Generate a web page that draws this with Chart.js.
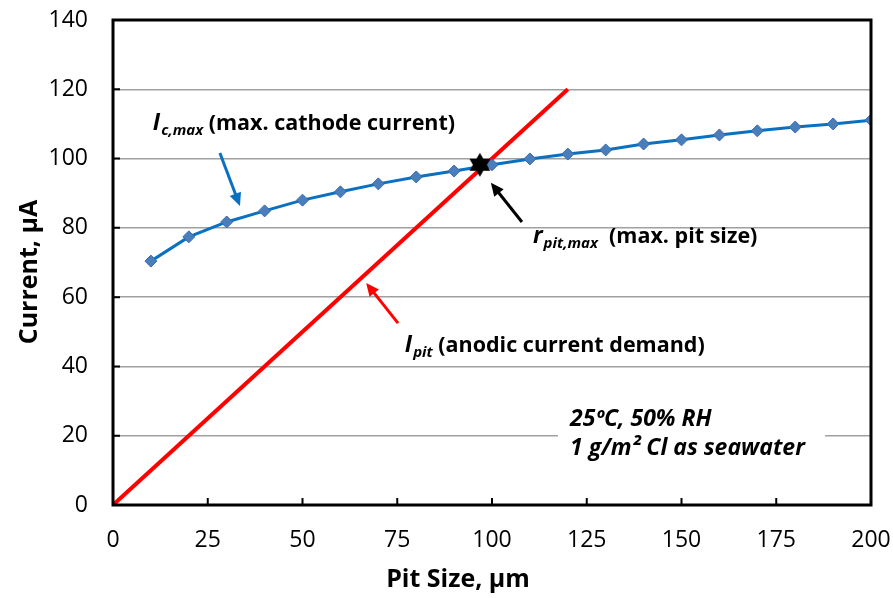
<!DOCTYPE html>
<html>
<head>
<meta charset="utf-8">
<script src="https://cdn.jsdelivr.net/npm/chart.js@4.4.1/dist/chart.umd.min.js"></script>
<style>
    html, body { margin: 0; padding: 0; background: #fff; }
</style>
</head>
<body>
<canvas id="chart" width="893" height="598"></canvas>
<script>
// data
const pitSize = [10, 20, 30, 40, 50, 60, 70, 80, 90, 100, 110, 120, 130, 140, 150, 160, 170, 180, 190, 200]
const cathodeCurrent = [70.4, 77.4, 81.7, 84.9, 88.0, 90.4, 92.7, 94.7, 96.4, 98.2, 99.9, 101.3, 102.5, 104.2, 105.4, 106.8, 108.0, 109.1, 110.0, 111.1]
const anodicSize = [0, 120]
const anodicCurrent = [0, 120]
const maxPitSize = [96.8]
const maxPitCurrent = [98.2]
const xTickStep = 25
const yTickStep = 20

const FONT = "'Open Sans', 'Noto Sans', sans-serif"

// labels and arrows, placed in data units
const labels = [
    { x: 10.5, y: 108.3, main: 'I', sub: 'c,max', rest: ' (max. cathode current)' },
    { x: 110.8, y: 75.6, main: 'r', sub: 'pit,max', rest: '  (max. pit size)' },
    { x: 77.0, y: 44.2, main: 'I', sub: 'pit', rest: ' (anodic current demand)' },
]
const arrows = [
    { from: [28.2, 101.6], to: [33.5, 86.3], color: '#0A70C0' },
    { from: [107.9, 81.7], to: [99.7, 93.0], color: '#000000' },
    { from: [75.2, 52.5], to: [66.8, 64.1], color: '#FF0000' },
]
const conditions = ['25ºC, 50% RH', '1 g/m² Cl as seawater']

function starImage(r) {
    const cv = document.createElement('canvas')
    cv.width = cv.height = r * 2 + 2
    const g = cv.getContext('2d')
    g.fillStyle = '#000'
    g.beginPath()
    for (let i = 0; i < 12; i++) {
        const a = -Math.PI / 2 + i * Math.PI / 6
        const rr = i % 2 ? r * 0.58 : r
        g.lineTo(r + 1 + rr * Math.cos(a), r + 1 + rr * Math.sin(a))
    }
    g.closePath()
    g.fill()
    return cv
}

function drawArrow(ctx, x1, y1, x2, y2, color) {
    const ang = Math.atan2(y2 - y1, x2 - x1)
    const len = 13, half = 6
    ctx.save()
    ctx.strokeStyle = color
    ctx.fillStyle = color
    ctx.lineWidth = 3
    ctx.beginPath()
    ctx.moveTo(x1, y1)
    ctx.lineTo(x2 - Math.cos(ang) * len * 0.8, y2 - Math.sin(ang) * len * 0.8)
    ctx.stroke()
    ctx.beginPath()
    ctx.moveTo(x2, y2)
    ctx.lineTo(x2 - Math.cos(ang) * len - Math.sin(ang) * half, y2 - Math.sin(ang) * len + Math.cos(ang) * half)
    ctx.lineTo(x2 - Math.cos(ang) * len + Math.sin(ang) * half, y2 - Math.sin(ang) * len - Math.cos(ang) * half)
    ctx.closePath()
    ctx.fill()
    ctx.restore()
}

function drawLabel(ctx, x, y, item) {
    ctx.save()
    ctx.fillStyle = '#000'
    ctx.textBaseline = 'alphabetic'
    ctx.textAlign = 'left'
    ctx.font = 'italic bold 23px ' + FONT
    ctx.fillText(item.main, x, y)
    x += ctx.measureText(item.main).width + 1
    ctx.font = 'italic bold 15px ' + FONT
    ctx.fillText(item.sub, x, y + 5)
    x += ctx.measureText(item.sub).width
    ctx.font = 'bold 21.5px ' + FONT
    ctx.fillText(item.rest, x, y)
    ctx.restore()
}

const decorPlugin = {
    id: 'decor',
    afterDraw(chart) {
        const ctx = chart.ctx
        const area = chart.chartArea
        const xs = chart.scales.x
        const ys = chart.scales.y

        // white box behind the conditions note
        ctx.save()
        ctx.fillStyle = '#fff'
        ctx.fillRect(xs.getPixelForValue(117.4), ys.getPixelForValue(28), xs.getPixelForValue(187.9) - xs.getPixelForValue(117.4), 55)
        ctx.restore()

        // frame
        ctx.save()
        ctx.strokeStyle = '#000'
        ctx.lineWidth = 3
        ctx.strokeRect(area.left, area.top, area.right - area.left, area.bottom - area.top)
        // inward ticks
        ctx.lineWidth = 2
        ctx.beginPath()
        ys.ticks.forEach(t => {
            const py = ys.getPixelForValue(t.value)
            ctx.moveTo(area.left, py)
            ctx.lineTo(area.left + 7, py)
        })
        xs.ticks.forEach(t => {
            const px = xs.getPixelForValue(t.value)
            ctx.moveTo(px, area.bottom)
            ctx.lineTo(px, area.bottom - 7)
        })
        ctx.stroke()
        ctx.restore()

        arrows.forEach(a => {
            drawArrow(ctx, xs.getPixelForValue(a.from[0]), ys.getPixelForValue(a.from[1]),
                xs.getPixelForValue(a.to[0]), ys.getPixelForValue(a.to[1]), a.color)
        })
        labels.forEach(l => drawLabel(ctx, xs.getPixelForValue(l.x), ys.getPixelForValue(l.y), l))

        ctx.save()
        ctx.fillStyle = '#000'
        ctx.font = 'italic bold 23px ' + FONT
        ctx.textAlign = 'left'
        ctx.fillText(conditions[0], xs.getPixelForValue(120.6), ys.getPixelForValue(22.8))
        ctx.fillText(conditions[1], xs.getPixelForValue(120.6), ys.getPixelForValue(14.4))

        // axis titles
        ctx.font = 'bold 25px ' + FONT
        ctx.textAlign = 'center'
        ctx.textBaseline = 'middle'
        ctx.fillText('Pit Size, µm', 458, 580)
        ctx.translate(30, 272)
        ctx.rotate(-Math.PI / 2)
        ctx.fillText('Current, µA', 0, 0)
        ctx.restore()
    }
}

const noPad = s => {
    s.paddingTop = 0
    s.paddingBottom = 0
    s.paddingLeft = 0
    s.paddingRight = 0
}

const ctx = document.getElementById('chart').getContext('2d')
new Chart(ctx, {
    type: 'scatter',
    data: {
        datasets: [{
            label: 'rpit,max',
            data: maxPitSize.map((x, i) => ({ x: x, y: maxPitCurrent[i] })),
            pointStyle: starImage(12),
            pointRadius: 12,
            showLine: false,
            order: 0
        }, {
            label: 'Ic,max',
            data: pitSize.map((x, i) => ({ x: x, y: cathodeCurrent[i] })),
            showLine: true,
            borderColor: '#0A70C0',
            borderWidth: 3,
            pointStyle: 'rectRot',
            pointRadius: 6,
            pointBackgroundColor: '#4A7EBB',
            pointBorderColor: '#3A6CB0',
            pointBorderWidth: 1,
            order: 1
        }, {
            label: 'Ipit',
            data: anodicSize.map((x, i) => ({ x: x, y: anodicCurrent[i] })),
            showLine: true,
            borderColor: '#FF0000',
            borderWidth: 4,
            pointRadius: 0,
            order: 2
        }]
    },
    options: {
        responsive: false,
        animation: false,
        devicePixelRatio: 1,
        layout: {
            padding: { top: 20, right: 22, left: 0, bottom: 0 }
        },
        plugins: {
            legend: { display: false },
            tooltip: { enabled: false }
        },
        scales: {
            x: {
                type: 'linear',
                min: 0,
                max: 200,
                ticks: {
                    stepSize: xTickStep,
                    color: '#000',
                    padding: 22,
                    maxRotation: 0,
                    font: { family: FONT, size: 23 }
                },
                grid: { display: false, drawTicks: false },
                border: { display: false },
                afterFit: s => { s.height = 93; noPad(s) }
            },
            y: {
                min: 0,
                max: 140,
                ticks: {
                    stepSize: yTickStep,
                    color: '#000',
                    padding: 25,
                    font: { family: FONT, size: 23 }
                },
                grid: { color: '#a0a0a0', lineWidth: 1.5, drawTicks: false },
                border: { display: false },
                afterFit: s => { s.width = 113; noPad(s) }
            }
        }
    },
    plugins: [decorPlugin]
})
</script>
</body>
</html>
